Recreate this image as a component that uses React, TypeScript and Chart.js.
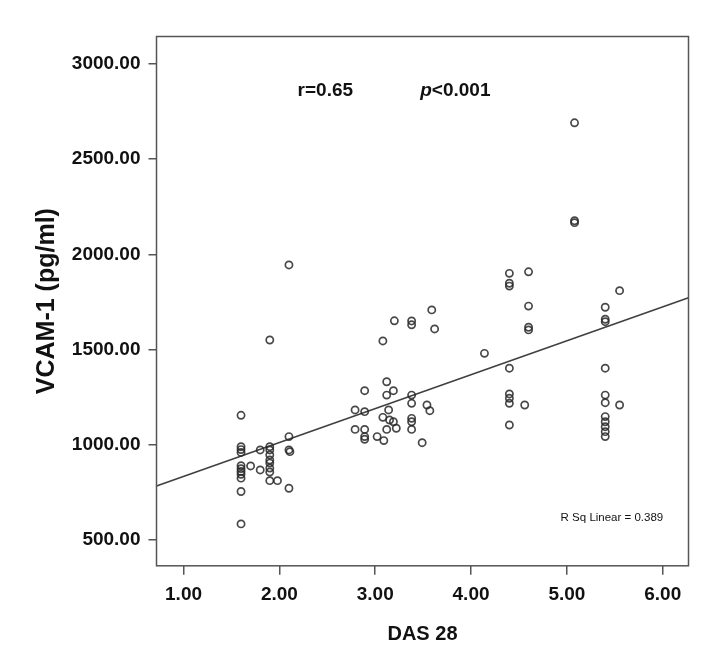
import React, { useEffect, useRef } from "react";
import { Chart, registerables } from "chart.js";

Chart.register(...registerables);

// DAS 28 (x) and VCAM-1 pg/ml (y) for each patient
const das28 = [
  1.6, 1.6, 1.6, 1.6, 1.6, 1.6, 1.6, 1.6, 1.6, 1.6, 1.6,
  1.7, 1.8, 1.8,
  1.9, 1.9, 1.9, 1.9, 1.9, 1.9, 1.9, 1.9, 1.9, 1.98,
  2.1, 2.1, 2.11, 2.1, 2.1,
  2.79, 2.79,
  2.89, 2.89, 2.89, 2.89, 2.89,
  3.02, 3.08, 3.08, 3.09, 3.12, 3.12, 3.12, 3.14, 3.15, 3.19, 3.19, 3.2, 3.22,
  3.38, 3.38, 3.38, 3.38, 3.38, 3.38, 3.38,
  3.49, 3.54, 3.57, 3.59, 3.62,
  4.14,
  4.4, 4.4, 4.4, 4.4, 4.4, 4.4, 4.4, 4.4,
  4.56, 4.6, 4.6, 4.6, 4.6,
  5.08, 5.08, 5.08,
  5.4, 5.4, 5.4, 5.4, 5.4, 5.4, 5.4, 5.4, 5.4, 5.4, 5.4,
  5.55, 5.55,
];
const vcam1 = [
  1155, 990, 975, 960, 890, 875, 860, 845, 825, 755, 585,
  889, 973, 868,
  990, 973, 947, 920, 904, 878, 857, 812, 1550, 812,
  1043, 973, 964, 772, 1944,
  1183, 1081,
  1284, 1174, 1081, 1043, 1029,
  1043, 1545, 1144, 1022, 1331, 1261, 1081, 1183, 1130, 1284, 1121, 1651, 1087,
  1650, 1630, 1261, 1218, 1139, 1121, 1081,
  1011, 1209, 1179, 1708, 1608,
  1480,
  1900, 1848, 1833, 1402, 1267, 1244, 1218, 1104,
  1209, 1908, 1728, 1617, 1603,
  2690, 2176, 2166,
  1722, 1659, 1646, 1402, 1261, 1221, 1148, 1121, 1095, 1069, 1043,
  1809, 1209,
];

// fitted linear regression line end points (at the frame edges)
const fitX = [0.718, 6.269];
const fitY = [784, 1772];

const xTicks = [1, 2, 3, 4, 5, 6];
const yTicks = [500, 1000, 1500, 2000, 2500, 3000];
const xRange = [0.718, 6.269];
const yRange = [365, 3143];

const xTitle = "DAS 28";
const yTitle = "VCAM-1 (pg/ml)";
const rText = "r=0.65";
const pItalic = "p";
const pRest = "<0.001";
const rsqText = "R Sq Linear = 0.389";

const FONT = "'Liberation Sans', Arial, sans-serif";
const INK = "#111111";
const FRAME = "#555555";

export default function App() {
  const ref = useRef<HTMLCanvasElement>(null);

  useEffect(() => {
    document.body.style.margin = "0";
    const canvas = ref.current;
    if (!canvas) return;

    const points = das28.map((x, i) => ({ x, y: vcam1[i] }));
    const fit = fitX.map((x, i) => ({ x, y: fitY[i] }));

    const overlay = {
      id: "overlay",
      afterDraw(chart: any) {
        const { ctx, chartArea: a, scales } = chart;
        const xs = scales.x;
        const ys = scales.y;
        ctx.save();
        ctx.strokeStyle = FRAME;
        ctx.lineWidth = 1.5;
        ctx.strokeRect(a.left, a.top, a.right - a.left, a.bottom - a.top);

        ctx.fillStyle = INK;
        ctx.textBaseline = "middle";
        ctx.textAlign = "left";
        const ay = ys.getPixelForValue(2857);
        ctx.font = `bold 19px ${FONT}`;
        ctx.fillText(rText, xs.getPixelForValue(2.19), ay);
        let px = xs.getPixelForValue(3.47);
        ctx.font = `italic bold 19px ${FONT}`;
        ctx.fillText(pItalic, px, ay);
        px += ctx.measureText(pItalic).width;
        ctx.font = `bold 19px ${FONT}`;
        ctx.fillText(pRest, px, ay);

        ctx.font = `11.5px ${FONT}`;
        ctx.textAlign = "center";
        ctx.fillText(rsqText, xs.getPixelForValue(5.47), ys.getPixelForValue(616));
        ctx.restore();
      },
    };

    const chart = new Chart(canvas, {
      type: "scatter",
      data: {
        datasets: [
          {
            data: points,
            pointRadius: 3.6,
            pointBorderWidth: 1.7,
            pointBackgroundColor: "rgba(0,0,0,0)",
            pointBorderColor: "rgba(40,40,40,0.85)",
            showLine: false,
          },
          {
            data: fit,
            showLine: true,
            borderColor: "#404040",
            borderWidth: 1.6,
            pointRadius: 0,
          },
        ],
      },
      options: {
        responsive: false,
        animation: false,
        events: [],
        layout: { padding: { top: 36.5, right: 31.5, left: 0, bottom: 0 } },
        plugins: { legend: { display: false }, tooltip: { enabled: false } },
        scales: {
          x: {
            type: "linear",
            min: xRange[0],
            max: xRange[1],
            afterBuildTicks: (s: any) => {
              s.ticks = xTicks.map((v) => ({ value: v }));
            },
            afterFit: (s: any) => {
              s.height = 83.2;
            },
            border: { display: false },
            grid: {
              drawOnChartArea: false,
              drawTicks: true,
              tickLength: 9,
              color: FRAME,
              lineWidth: 1.5,
            },
            ticks: {
              color: INK,
              padding: 9,
              maxRotation: 0,
              font: { family: FONT, size: 19, weight: "bold" },
              callback: (v: any) => Number(v).toFixed(2),
            },
            title: {
              display: true,
              text: xTitle,
              color: INK,
              font: { family: FONT, size: 20, weight: "bold", lineHeight: 1.2 },
              padding: { top: 0, bottom: 3 },
            },
          },
          y: {
            type: "linear",
            min: yRange[0],
            max: yRange[1],
            afterBuildTicks: (s: any) => {
              s.ticks = yTicks.map((v) => ({ value: v }));
            },
            afterFit: (s: any) => {
              s.width = 156.5;
            },
            border: { display: false },
            grid: {
              drawOnChartArea: false,
              drawTicks: true,
              tickLength: 8,
              color: FRAME,
              lineWidth: 1.5,
            },
            ticks: {
              color: INK,
              padding: 8,
              font: { family: FONT, size: 19, weight: "bold" },
              callback: (v: any) => Number(v).toFixed(2),
            },
            title: {
              display: true,
              text: yTitle,
              color: INK,
              font: { family: FONT, size: 25, weight: "bold", lineHeight: 1.2 },
              padding: { top: 32, bottom: 0 },
            },
          },
        },
      },
      plugins: [overlay],
    } as any);

    return () => chart.destroy();
  }, []);

  return (
    <div style={{ width: 720, height: 649 }}>
      <canvas ref={ref} width={720} height={649} style={{ display: "block" }} />
    </div>
  );
}
